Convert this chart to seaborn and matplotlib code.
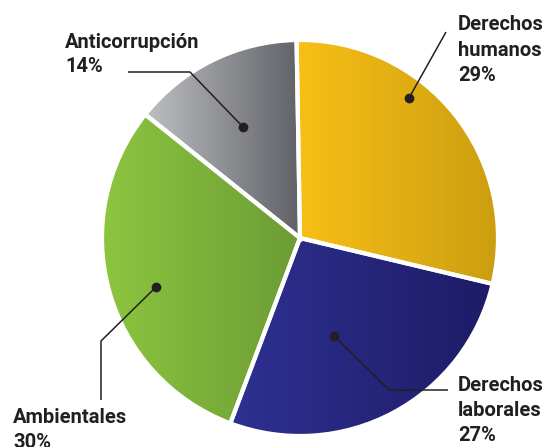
import numpy as np
import matplotlib
matplotlib.use("Agg")
import matplotlib.pyplot as plt
from matplotlib.colors import LinearSegmentedColormap
import seaborn as sns

# data
names = ["Derechos\nhumanos", "Derechos\nlaborales", "Ambientales", "Anticorrupción"]
shares = [29, 27, 30, 14]
pct_text = ["29%", "27%", "30%", "14%"]

# gradient colours per slice (left -> right)
light = ["#F8BF16", "#2E3192", "#8DC63F", "#BEBFC3"]
dark = ["#CB9E10", "#1E1B66", "#6C9C36", "#616267"]

W, H = 544, 447
sns.set_theme(style="white")
plt.rcParams['font.family'] = ['Roboto', 'DejaVu Sans']
ink = "#231F20"

fig = plt.figure(figsize=(W / 100, H / 100), dpi=100)
ax = fig.add_axes([0, 0, 1, 1])

# pie in pixel-like coords (y up)
cx, cy, R = 300, H - 238, 198
wedges, _ = ax.pie(shares, startangle=91, counterclock=False,
                   center=(cx, cy), radius=R,
                   wedgeprops=dict(facecolor='none', edgecolor='white', linewidth=3, zorder=3))

# horizontal gradient fill for each slice
grad = np.linspace(0, 1, 256).reshape(1, -1)
for w, c0, c1 in zip(wedges, light, dark):
    v = w.get_path().vertices
    cmap = LinearSegmentedColormap.from_list('g', [c0, c1])
    im = ax.imshow(grad, cmap=cmap, aspect='auto', interpolation='bilinear',
                   extent=(v[:, 0].min(), v[:, 0].max(), v[:, 1].min(), v[:, 1].max()),
                   zorder=1)
    im.set_clip_path(w)

# label layout (image coords: x, first baseline y, line step)
label_pos = [(458, 30, 25.5), (458, 391, 25), (13, 423, 25), (65, 48, 24)]
leaders = [
    [(446, 32), (409, 98)],
    [(448, 390), (389, 390), (334, 336)],
    [(101, 400), (101, 341), (156, 287)],
    [(128, 72), (190, 72), (243, 127)],
]

for name, pct, (lx, ly, step), pts in zip(names, pct_text, label_pos, leaders):
    lines = name.split("\n") + [pct]
    for i, line in enumerate(lines):
        ax.text(lx, H - (ly + i * step), line, fontsize=14.5, fontweight='bold',
                color=ink, va='baseline', ha='left', zorder=5)
    xs = [p[0] for p in pts]
    ys = [H - p[1] for p in pts]
    ax.plot(xs, ys, color=ink, lw=1.1, zorder=4, solid_capstyle='butt')
    ax.plot(xs[-1], ys[-1], 'o', color=ink, ms=6, zorder=4)

ax.set_xlim(0, W)
ax.set_ylim(0, H)
ax.set_aspect('equal')
ax.axis('off')

fig.savefig("out.png", dpi=100)
